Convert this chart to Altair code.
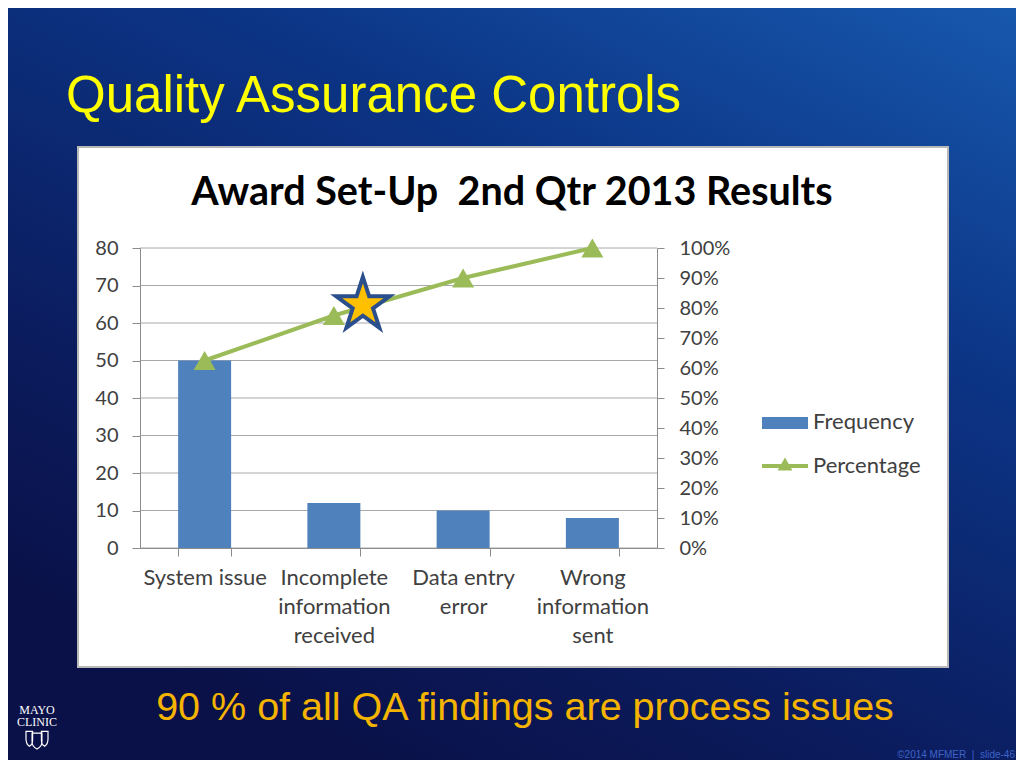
import altair as alt
import pandas as pd

# ---------------- data ----------------
categories = ["System issue", "Incomplete\ninformation\nreceived", "Data entry\nerror", "Wrong\ninformation\nsent"]
frequency = [50, 12, 10, 8]
percentage = [0.625, 0.775, 0.90, 1.00]
left_ticks = [0, 10, 20, 30, 40, 50, 60, 70, 80]
right_ticks = [0.0, 0.1, 0.2, 0.3, 0.4, 0.5, 0.6, 0.7, 0.8, 0.9, 1.0]
star_category = [categories[1]]
star_value = [0.81]

slide_title = "Quality Assurance Controls"
chart_title = "Award Set-Up  2nd Qtr 2013 Results"
footer_text = "90 % of all QA findings are process issues"
legend_labels = ["Frequency", "Percentage"]
logo_lines = ["MAYO", "CLINIC"]
copyright_text = "\u00a92014 MFMER  |  slide-46"

# ---------------- styling ----------------
W, H = 517, 300
BAR = "#4F81BD"
GREEN = "#9BBB59"
AXIS_GRAY = "#8c8c8c"
LABEL = "#404040"
CFONT = "Lato"

df = pd.DataFrame({"category": categories, "frequency": frequency, "percentage": percentage})
grid_df = pd.DataFrame({"frequency": left_ticks})
star_df = pd.DataFrame({"category": star_category, "percentage": star_value})
one = pd.DataFrame({"k": [0]})

x_enc = alt.X(
    "category:N",
    sort=categories,
    scale=alt.Scale(paddingInner=0.59, paddingOuter=0.295),
    axis=alt.Axis(
        title=None, labelAngle=0, labelExpr="split(datum.label, '\\n')",
        labelFontSize=22, labelColor=LABEL, labelFont=CFONT, labelLineHeight=29,
        labelPadding=11, labelOverlap=False, labelLimit=300,
        tickBand="extent", tickSize=8, tickColor=AXIS_GRAY, domainColor=AXIS_GRAY,
        grid=False, zindex=1,
    ),
)

left_axis = alt.Axis(
    orient="left", title=None, values=left_ticks, labelFontSize=20, labelColor=LABEL,
    labelFont=CFONT, labelPadding=14, tickSize=8, tickColor=AXIS_GRAY,
    domainColor=AXIS_GRAY, grid=False, zindex=1,
)
right_axis = alt.Axis(
    orient="right", title=None, values=right_ticks, format=".0%", labelFontSize=20,
    labelColor=LABEL, labelFont=CFONT, labelPadding=15, tickSize=7,
    tickColor=AXIS_GRAY, domainColor=AXIS_GRAY, grid=False, zindex=1,
)
y_left = alt.Y("frequency:Q", scale=alt.Scale(domain=[0, 80], nice=False), axis=left_axis)
y_right = alt.Y("percentage:Q", scale=alt.Scale(domain=[0, 1], nice=False), axis=right_axis)

# background gradient
grad = alt.Gradient(
    gradient="linear",
    stops=[
        alt.GradientStop(color="#1758ad", offset=0),
        alt.GradientStop(color="#0c3586", offset=0.35),
        alt.GradientStop(color="#0b1c5e", offset=0.75),
        alt.GradientStop(color="#0a1148", offset=1),
    ],
    x1=1, y1=0, x2=0.35, y2=1,
)
bg = alt.Chart(one).mark_rect(fill=grad).encode(
    x=alt.value(-132), x2=alt.value(876), y=alt.value(-240), y2=alt.value(512)
)
box = alt.Chart(one).mark_rect(fill="white", stroke="#b8b8b8", strokeWidth=2).encode(
    x=alt.value(-62), x2=alt.value(808), y=alt.value(-101), y2=alt.value(419)
)


def text_layer(txt, x, y, **kw):
    return alt.Chart(one).mark_text(text=txt, **kw).encode(x=alt.value(x), y=alt.value(y))


title1 = text_layer(slide_title, -74, -136, font="Liberation Sans", fontSize=51,
                    color="#FFFF00", align="left", baseline="alphabetic")
title2 = text_layer(chart_title.replace("  ", " \u00a0"), 372, -43, font=CFONT, fontSize=39.5,
                    fontWeight="bold", color="#000000", align="center", baseline="alphabetic")
footer = text_layer(footer_text, 385, 472, font="Liberation Sans", fontSize=39.5,
                    color="#F5B400", align="center", baseline="alphabetic")
logo1 = text_layer(logo_lines[0], -103, 462, font="Liberation Serif", fontSize=12,
                   color="white", align="center", baseline="middle")
logo2 = text_layer(logo_lines[1], -103, 474, font="Liberation Serif", fontSize=12,
                   color="white", align="center", baseline="middle")
shield_path = ("M-1,-0.6L-0.4,-0.6L-0.4,0.2Q-0.4,0.6-0.7,0.75Q-1,0.55-1,0.1Z"
               "M1,-0.6L0.4,-0.6L0.4,0.2Q0.4,0.6,0.7,0.75Q1,0.55,1,0.1Z"
               "M-0.45,-0.45L0.45,-0.45L0.45,0.35Q0.45,0.8,0,1Q-0.45,0.8-0.45,0.35Z")
logo_shield = alt.Chart(one).mark_point(shape=shield_path, filled=False, stroke="white",
                                        strokeWidth=1.2, size=484, opacity=1).encode(
    x=alt.value(-103), y=alt.value(490))
copyright_t = text_layer(copyright_text.replace("  ", " \u00a0"), 875, 512,
                         font="Liberation Sans", fontSize=10,
                         color="#3f63c8", align="right", baseline="bottom")

# legend (drawn)
leg_rect = alt.Chart(one).mark_rect(fill=BAR).encode(
    x=alt.value(622), x2=alt.value(668), y=alt.value(169), y2=alt.value(181))
leg_line = alt.Chart(one).mark_rule(color=GREEN, strokeWidth=4).encode(
    x=alt.value(622), x2=alt.value(668), y=alt.value(218))
leg_tri = alt.Chart(one).mark_point(shape="triangle-up", filled=True, color=GREEN,
                                    size=220, opacity=1).encode(x=alt.value(645), y=alt.value(216))
leg_t1 = text_layer(legend_labels[0], 673, 174, font=CFONT, fontSize=22, color=LABEL,
                    align="left", baseline="middle")
leg_t2 = text_layer(legend_labels[1], 673, 218, font=CFONT, fontSize=22, color=LABEL,
                    align="left", baseline="middle")

# data layers
grid = alt.Chart(grid_df).mark_rule(color="#a8a8a8", strokeWidth=1).encode(y=y_left)
bars = alt.Chart(df).mark_bar(color=BAR).encode(x=x_enc, y=y_left)
layer_a = alt.layer(grid, bars)

line = alt.Chart(df).mark_line(
    color=GREEN, strokeWidth=4,
    point=alt.OverlayMarkDef(shape="triangle-up", size=484, filled=True, color=GREEN, opacity=1),
).encode(x=x_enc, y=y_right)
star_path = ("M0,-1L0.2245,-0.309L0.951,-0.309L0.363,0.118L0.588,0.809L0,0.382"
             "L-0.588,0.809L-0.363,0.118L-0.951,-0.309L-0.2245,-0.309Z")
star = alt.Chart(star_df).mark_point(
    shape=star_path, filled=True, fill="#FFC000", stroke="#2B4F8C", strokeWidth=4,
    size=3136, opacity=1, xOffset=29,
).encode(x=x_enc, y=y_right)
layer_b = alt.layer(line, star)

chart = alt.layer(
    bg, box, title1, title2, footer, logo1, logo2, logo_shield, copyright_t,
    leg_rect, leg_line, leg_tri, leg_t1, leg_t2,
    layer_a, layer_b,
).resolve_scale(y="independent").properties(
    width=W, height=H,
    padding={"left": 132, "top": 240, "right": 359, "bottom": 212},
    autosize=alt.AutoSizeParams(type="none"),
).configure_view(strokeWidth=0).configure(background="#0b2466")

chart.save("out.html", embed_options={"renderer": "svg", "actions": False})
